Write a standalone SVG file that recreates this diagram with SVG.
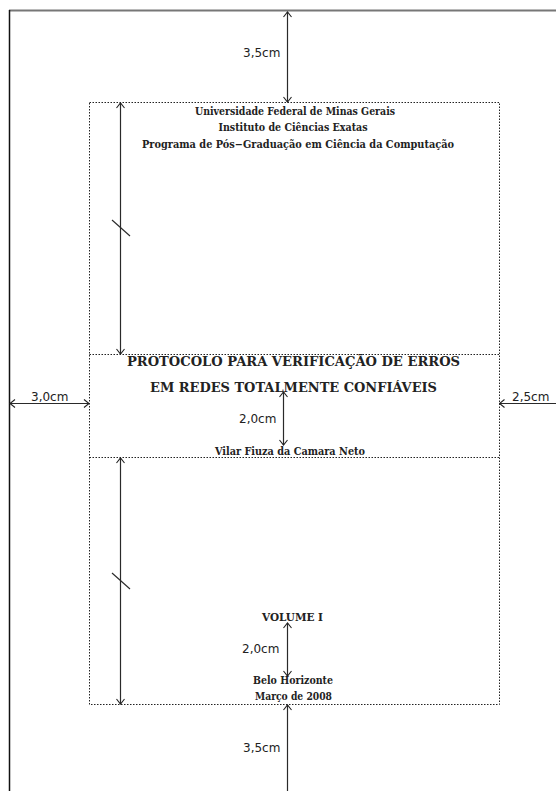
<svg xmlns="http://www.w3.org/2000/svg" width="556" height="791" viewBox="0 0 556 791">
<style>
.bg{fill:#fff}
.dot{stroke:#222;stroke-width:1;stroke-dasharray:1.5 1.5;fill:none}
.arr{stroke:#2a2a2a;stroke-width:1.2;fill:none}
.lbl{font-family:"DejaVu Sans",Verdana,sans-serif;font-size:12px;fill:#222}
.st{font-family:"DejaVu Serif","Liberation Serif",serif;font-weight:bold;font-size:10.5px;fill:#222;text-anchor:middle}
.tt{font-family:"DejaVu Serif","Liberation Serif",serif;font-weight:bold;font-size:13px;fill:#222;text-anchor:middle}
</style>
<defs>
<marker id="ah" viewBox="-7 -5 8 10" refX="0" refY="0" markerWidth="8" markerHeight="10" markerUnits="userSpaceOnUse" orient="auto-start-reverse">
<path d="M-5,-4 L0,0 L-5,4" stroke="#222" stroke-width="1.1" fill="none"/>
</marker>
</defs>
<rect class="bg" x="0" y="0" width="556" height="791"/>
<g id="frame">
<line x1="9" y1="10.5" x2="556" y2="10.5" stroke="#777" stroke-width="2"/>
<line x1="9.5" y1="10" x2="9.5" y2="791" stroke="#111" stroke-width="1.5"/>
</g>
<g id="textblock">
<rect class="dot" x="89.5" y="102.5" width="410" height="602"/>
<line class="dot" x1="89.5" y1="354.5" x2="499.5" y2="354.5"/>
<line class="dot" x1="89.5" y1="457.5" x2="499.5" y2="457.5"/>
</g>
<g id="connectors">
<line class="arr" x1="287.5" y1="12" x2="287.5" y2="102" marker-start="url(#ah)" marker-end="url(#ah)"/>
<line class="arr" x1="120.5" y1="103" x2="120.5" y2="354" marker-start="url(#ah)" marker-end="url(#ah)"/>
<line class="arr" x1="112" y1="220" x2="130" y2="236"/>
<line class="arr" x1="120.5" y1="458" x2="120.5" y2="704" marker-start="url(#ah)" marker-end="url(#ah)"/>
<line class="arr" x1="112" y1="573" x2="130" y2="589"/>
<line class="arr" x1="10" y1="403.5" x2="89" y2="403.5" marker-start="url(#ah)" marker-end="url(#ah)"/>
<line class="arr" x1="499.5" y1="403.5" x2="556" y2="403.5" marker-start="url(#ah)"/>
<line class="arr" x1="283.5" y1="392" x2="283.5" y2="445" marker-start="url(#ah)" marker-end="url(#ah)"/>
<line class="arr" x1="287.5" y1="623" x2="287.5" y2="676" marker-start="url(#ah)" marker-end="url(#ah)"/>
<line class="arr" x1="287.5" y1="705" x2="287.5" y2="791" marker-start="url(#ah)"/>
</g>
<g id="labels">
<text class="lbl" x="243" y="57">3,5cm</text>
<text class="lbl" x="31" y="401">3,0cm</text>
<text class="lbl" x="512" y="401">2,5cm</text>
<text class="lbl" x="239" y="423">2,0cm</text>
<text class="lbl" x="242" y="653">2,0cm</text>
<text class="lbl" x="243" y="752">3,5cm</text>
</g>
<g id="header">
<text class="st" x="295" y="115" textLength="200" lengthAdjust="spacingAndGlyphs">Universidade Federal de Minas Gerais</text>
<text class="st" x="293" y="131" textLength="149" lengthAdjust="spacingAndGlyphs">Instituto de Ciências Exatas</text>
<text class="st" x="298" y="148" textLength="312" lengthAdjust="spacingAndGlyphs">Programa de Pós−Graduação em Ciência da Computação</text>
</g>
<g id="title">
<text class="tt" x="293.5" y="366" textLength="333" lengthAdjust="spacingAndGlyphs">PROTOCOLO PARA VERIFICAÇÃO DE ERROS</text>
<text class="tt" x="293.5" y="392" textLength="287" lengthAdjust="spacingAndGlyphs">EM REDES TOTALMENTE CONFIÁVEIS</text>
</g>
<g id="author">
<text class="st" x="290" y="455" textLength="150" lengthAdjust="spacingAndGlyphs">Vilar Fiuza da Camara Neto</text>
</g>
<g id="footer">
<text class="st" x="292.5" y="621" textLength="61" lengthAdjust="spacingAndGlyphs">VOLUME I</text>
<text class="st" x="293" y="684" textLength="80" lengthAdjust="spacingAndGlyphs">Belo Horizonte</text>
<text class="st" x="293.5" y="700" textLength="77" lengthAdjust="spacingAndGlyphs">Março de 2008</text>
</g>
</svg>
